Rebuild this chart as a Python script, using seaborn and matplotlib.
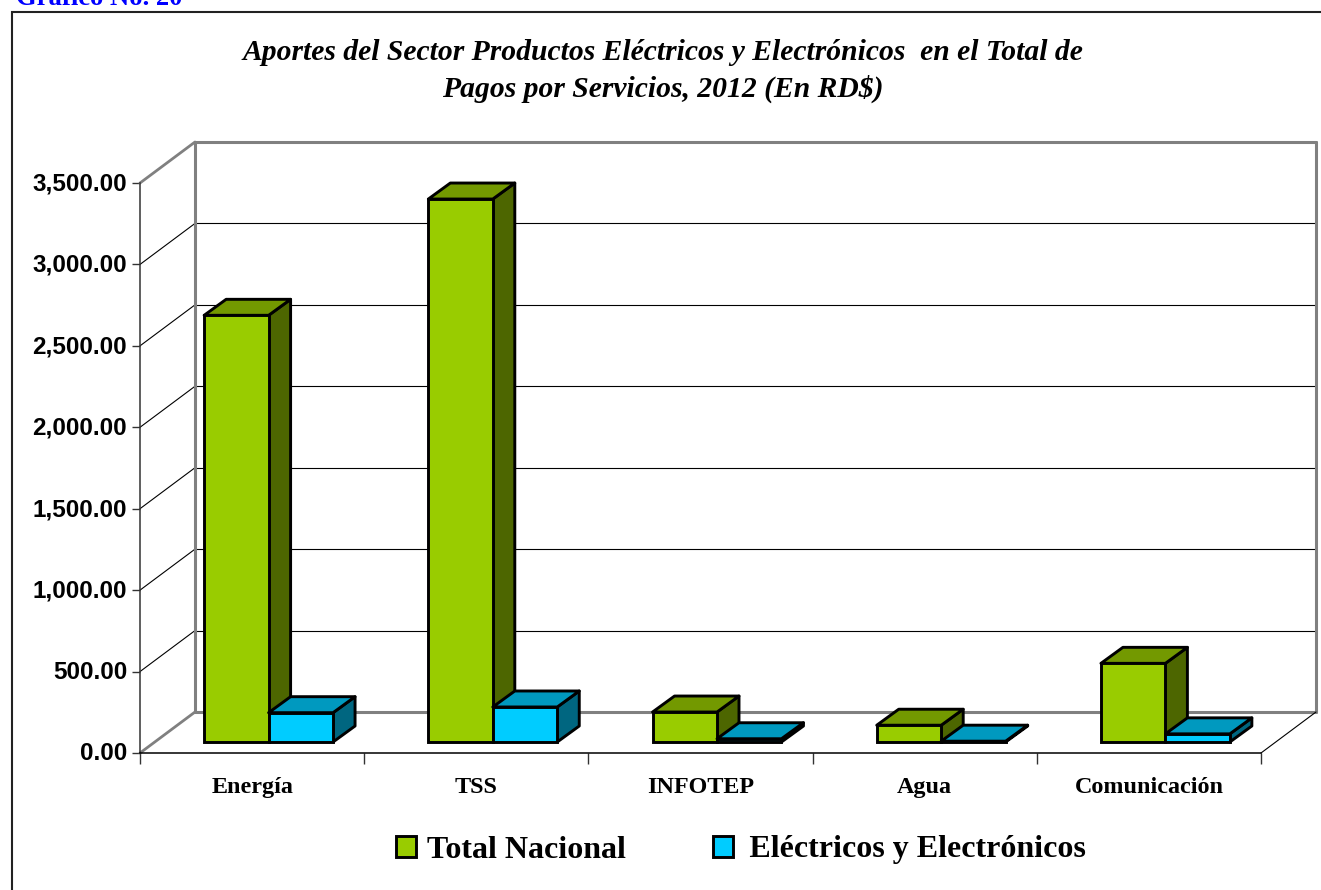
import numpy as np
import pandas as pd
import matplotlib
matplotlib.use("Agg")
import matplotlib.pyplot as plt
from matplotlib.patches import Polygon, Rectangle
from matplotlib.transforms import Affine2D, IdentityTransform
import seaborn as sns

categorias = ["Energía", "TSS", "INFOTEP", "Agua", "Comunicación"]
total_nacional = [2620, 3334, 184, 103, 483]
electricos = [180, 215, 20, 5, 50]
serie_1 = "Total Nacional"
serie_2 = "\u2006Eléctricos y Electrónicos"
y_ticks = [0, 500, 1000, 1500, 2000, 2500, 3000, 3500]
y_labels = ["0.00", "500.00", "1,000.00", "1,500.00", "2,000.00", "2,500.00", "3,000.00", "3,500.00"]

W, H = 1321, 890
sns.set_style("white")
plt.rcParams["font.family"] = ["Liberation Serif", "DejaVu Sans"]
plt.rcParams["text.color"] = "black"
plt.rcParams["ytick.labelcolor"] = "black"

df = pd.DataFrame({
    "categoria": categorias * 2,
    "valor": total_nacional + electricos,
    "serie": [serie_1] * 5 + [serie_2] * 5,
})

fig = plt.figure(figsize=(W / 100, H / 100), dpi=100)
ax = fig.add_axes([140 / W, (H - 753) / H, 1121 / W, 570 / H])
ax.patch.set_alpha(0)

sns.barplot(data=df, x="categoria", y="valor", hue="serie", order=categorias,
            palette=["#99CC00", "#00CCFF"], width=0.575, gap=0, saturation=1,
            edgecolor="black", linewidth=2.1, ax=ax)
ax.set_xlim(-0.5, 4.5)
ax.set_ylim(0, 3500)
ax.set_xlabel("")
ax.set_ylabel("")
ax.legend_.remove()

# pseudo 3d offsets in pixels
wall_dx, wall_dy = 55, 41
bar_dx, bar_dy = 16.5, 11
depth_dx, depth_dy = 22, 16
bar_trans = ax.transData + Affine2D().translate(bar_dx, bar_dy)
wall_trans = ax.transData + Affine2D().translate(wall_dx, wall_dy)
ident = IdentityTransform()

# wall and floor
for v in y_ticks:
    p0 = ax.transData.transform((-0.5, v))
    p1 = wall_trans.transform((-0.5, v))
    p2 = wall_trans.transform((4.5, v))
    edge = v in (0, 3500)
    ax.plot([p0[0], p1[0]], [p0[1], p1[1]], transform=ident, clip_on=False, zorder=1,
            color="#808080" if edge else "black", lw=2 if edge else 0.8)
    ax.plot([p1[0], p2[0]], [p1[1], p2[1]], transform=ident, clip_on=False, zorder=1,
            color="#808080" if edge else "black", lw=2.2 if edge else 0.8)
for x in (-0.5, 4.5):
    p1 = wall_trans.transform((x, 0))
    p2 = wall_trans.transform((x, 3500))
    ax.plot([p1[0], p2[0]], [p1[1], p2[1]], transform=ident, clip_on=False, zorder=1, color="#808080", lw=2.2)
p0 = ax.transData.transform((4.5, 0))
p1 = wall_trans.transform((4.5, 0))
ax.plot([p0[0], p1[0]], [p0[1], p1[1]], transform=ident, clip_on=False, zorder=1, color="black", lw=0.8)

# bars, side and top faces
tonos = [("#739900", "#4D6600"), ("#0099BF", "#006680")]
for c, container in enumerate(ax.containers):
    for i, bar in enumerate(container):
        z = 3 + i * 3 + c * 0.5
        x0, x1 = bar.get_x(), bar.get_x() + bar.get_width()
        h = bar.get_height()
        a = bar_trans.transform((x0, h))
        b = bar_trans.transform((x1, h))
        d = bar_trans.transform((x1, 0))
        off = np.array([depth_dx, depth_dy])
        top = Polygon([a, b, b + off, a + off], closed=True, transform=ident, facecolor=tonos[c][0],
                      edgecolor="black", lw=2.1, clip_on=False, zorder=z, joinstyle="round")
        side = Polygon([b, b + off, d + off, d], closed=True, transform=ident, facecolor=tonos[c][1],
                       edgecolor="black", lw=2.1, clip_on=False, zorder=z, joinstyle="round")
        ax.add_patch(side)
        ax.add_patch(top)
        bar.set_transform(bar_trans)
        bar.set_clip_on(False)
        bar.set_zorder(z + 0.1)

# axes
for s in ("top", "right"):
    ax.spines[s].set_visible(False)
ax.spines["left"].set_color("#333333")
ax.spines["left"].set_linewidth(1.1)
ax.spines["bottom"].set_color("black")
ax.spines["bottom"].set_linewidth(1.1)
ax.set_yticks(y_ticks)
ax.set_yticklabels(y_labels, family="Liberation Sans", fontweight="bold", fontsize=17.5, color="black")
ax.set_xticks(np.arange(-0.5, 5, 1), minor=False)
ax.set_xticklabels([])
ax.tick_params(axis="y", left=True, length=6, width=1.0, pad=3.3, color="#333333")
ax.tick_params(axis="x", bottom=True, length=8, width=1.0, color="#333333")
for lab in ax.get_yticklabels():
    lab.set_transform(lab.get_transform() + Affine2D().translate(0, 1.5))
for i, nombre in enumerate(categorias):
    ax.annotate(nombre, (i, 0), xytext=(0, -40), xycoords="data", textcoords="offset pixels",
                ha="center", va="baseline", fontsize=17.4, fontweight="bold", clip_on=False, color="black")

# frame and titles
fig.add_artist(Rectangle((11.5 / W, -0.01), 1.1, (H - 11.5) / H + 0.01, transform=fig.transFigure,
                         fill=False, edgecolor="#222222", lw=1.5))
fig.text(16 / W, (H - 5) / H, "Gráfico No. 20", color="#0000FF", fontsize=19.2, fontweight="bold",
         ha="left", va="baseline")
fig.text(662.5 / W, (H - 71) / H,
         "Aportes del Sector Productos Eléctricos y Electrónicos  en el Total de\nPagos por Servicios, 2012 (En RD$)",
         ha="center", va="center", fontsize=21.3, fontweight="bold", style="italic", linespacing=1.42, color="black")

handles = [ax.containers[0][0], ax.containers[1][0]]
leg = fig.legend(handles, [serie_1, serie_2], ncol=2, loc="center left",
                 bbox_to_anchor=(396 / W, (H - 850) / H), frameon=False,
                 prop={"weight": "bold", "size": 23}, handlelength=0.62, handleheight=0.62,
                 handletextpad=0.34, columnspacing=2.75, borderpad=0, borderaxespad=0)
for p, color in zip(leg.get_patches(), ["#99CC00", "#00CCFF"]):
    p.set_facecolor(color)
    p.set_edgecolor("black")
    p.set_linewidth(2.1)

fig.savefig("out.png", dpi=100)
